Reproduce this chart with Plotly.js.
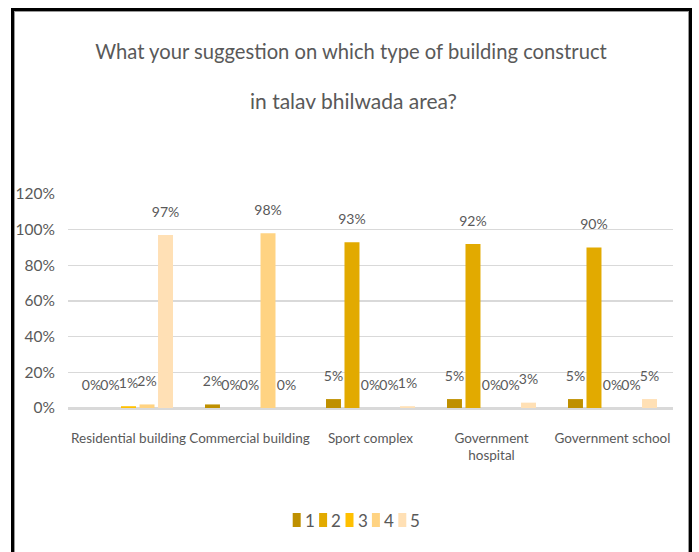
<!DOCTYPE html>
<html>
<head>
<meta charset="utf-8">
<script src="https://cdn.plot.ly/plotly-3.0.1.min.js"></script>
<style>
  html, body { margin: 0; padding: 0; background: #fff; }
  #chart { width: 699px; height: 552px; }
  #frame { position: absolute; left: 11px; top: 8px; width: 675px; height: 600px;
           border: 3px solid #000; box-shadow: inset 0 0 0 1px #999; pointer-events: none; }
</style>
</head>
<body>
<div id="chart"></div>
<div id="frame"></div>
<script>
// ---- data ----
const categories = ['Residential building', 'Commercial building', 'Sport complex', 'Government<br>hospital', 'Government school'];
const seriesNames = ['1', '2', '3', '4', '5'];
const series1 = [0, 2, 5, 5, 5];
const series2 = [0, 0, 93, 92, 90];
const series3 = [1, 0, 0, 0, 0];
const series4 = [2, 98, 0, 0, 0];
const series5 = [97, 0, 1, 3, 5];
const titleLine1 = 'What your suggestion on which type of building construct';
const titleLine2 = 'in talav bhilwada area?';

const seriesValues = [series1, series2, series3, series4, series5];
const colors = ['#BF9000', '#E2AA00', '#FFC000', '#FFD382', '#FFE0B5'];
const FONT = 'Lato, "Liberation Sans", sans-serif';
const GREY = '#595959';

const W = 699, H = 552;
const M = { l: 68, r: 26, t: 194, b: 144 };
const plotW = W - M.l - M.r, plotH = H - M.t - M.b;
const px2x = px => (px - M.l) / plotW;
const py2y = py => (H - M.b - py) / plotH;

const barTraces = seriesNames.map((name, i) => ({
  type: 'bar',
  name: name,
  x: categories,
  y: seriesValues[i],
  offsetgroup: 'g' + i,
  marker: { color: colors[i], line: { width: 0 } },
  hoverinfo: 'skip',
  showlegend: false
}));

// data labels, grouped the same way as the bars
const labelTraces = seriesNames.map((name, i) => ({
  type: 'scatter',
  mode: 'markers+text',
  name: name + ' labels',
  x: categories,
  y: seriesValues[i],
  offsetgroup: 'g' + i,
  orientation: 'v',
  text: seriesValues[i].map(v => v + '%'),
  textposition: 'top center',
  textfont: { family: FONT, size: 14, color: GREY },
  marker: { size: 22, color: 'rgba(0,0,0,0)', line: { width: 0 } },
  cliponaxis: false,
  hoverinfo: 'skip',
  showlegend: false
}));

// compact Excel-style legend
const shapes = [];
const annotations = [];
const legStart = 292.7, legPitch = 26.4, legY = 520;
seriesNames.forEach((name, i) => {
  const left = legStart + i * legPitch;
  shapes.push({
    type: 'rect', xref: 'paper', yref: 'paper',
    xsizemode: 'pixel', ysizemode: 'pixel',
    xanchor: px2x(left), yanchor: py2y(legY),
    x0: 0, x1: 8, y0: -7, y1: 7,
    fillcolor: colors[i], line: { width: 0 }
  });
  annotations.push({
    xref: 'paper', yref: 'paper', x: px2x(left + 10), y: py2y(legY),
    xanchor: 'left', yanchor: 'middle', showarrow: false, text: name,
    font: { family: FONT, size: 17, color: GREY }
  });
});
annotations.push({
  xref: 'paper', yref: 'paper', x: px2x(353), y: py2y(100),
  xanchor: 'center', yanchor: 'middle', showarrow: false, text: titleLine2,
  font: { family: FONT, size: 21, color: GREY }
});

const layout = {
  width: W, height: H,
  margin: M,
  paper_bgcolor: '#ffffff',
  plot_bgcolor: '#ffffff',
  font: { family: FONT, color: GREY },
  title: {
    text: titleLine1,
    x: 351 / W, xref: 'container', xanchor: 'center',
    y: 1 - 52 / H, yref: 'container', yanchor: 'middle',
    font: { family: FONT, size: 20.2, color: GREY }
  },
  barmode: 'group',
  bargap: 0.235,
  bargroupgap: 0.19,
  scattermode: 'group',
  scattergap: 0.235,
  xaxis: {
    type: 'category',
    showgrid: false,
    showline: true, linecolor: '#D9D9D9', linewidth: 1.5,
    ticks: '',
    tickangle: 0,
    ticklabelstandoff: 17,
    tickfont: { family: FONT, size: 13.5, color: GREY }
  },
  yaxis: {
    range: [0, 120],
    tickmode: 'linear', tick0: 0, dtick: 20,
    ticksuffix: '%',
    showgrid: true, gridcolor: '#D9D9D9', gridwidth: 1.3,
    zeroline: true, zerolinecolor: '#D9D9D9', zerolinewidth: 1.5,
    showline: false,
    ticks: '',
    ticklabelstandoff: 12,
    tickfont: { family: FONT, size: 15.5, color: GREY }
  },
  shapes: shapes,
  annotations: annotations,
  showlegend: false
};

Plotly.newPlot('chart', barTraces.concat(labelTraces), layout, { staticPlot: true, displayModeBar: false });
</script>
</body>
</html>
